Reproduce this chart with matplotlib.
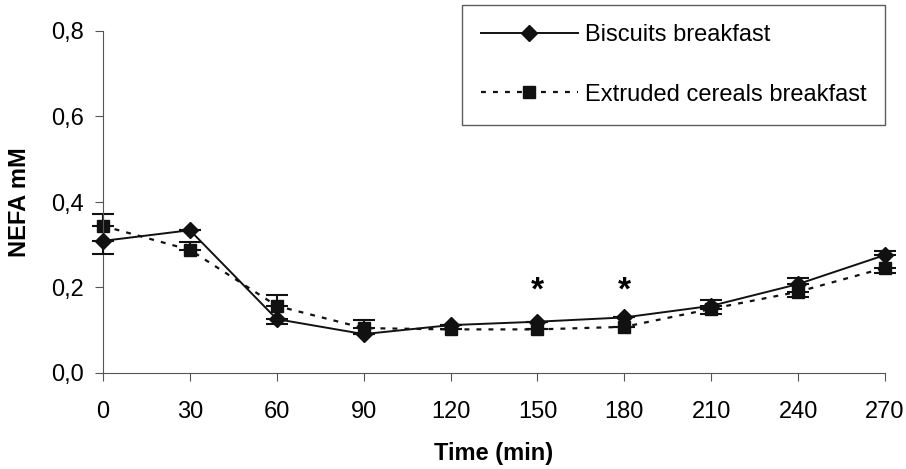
import matplotlib
matplotlib.use("Agg")
import matplotlib.pyplot as plt
from matplotlib.lines import Line2D
import numpy as np

plt.rcParams['font.family'] = ['Liberation Sans', 'DejaVu Sans']

time = [0, 30, 60, 90, 120, 150, 180, 210, 240, 270]
biscuits = [0.309, 0.334, 0.126, 0.091, 0.112, 0.120, 0.130, 0.157, 0.208, 0.276]
biscuits_err_lo = [0.030, 0.0, 0.012, 0.0, 0.0, 0.0, 0.0, 0.0, 0.0, 0.0]
biscuits_err_hi = [0.0, 0.0, 0.0, 0.0, 0.0, 0.0, 0.0, 0.014, 0.014, 0.010]
extruded = [0.344, 0.288, 0.157, 0.105, 0.102, 0.102, 0.108, 0.150, 0.190, 0.246]
extruded_err_lo = [0.0, 0.0, 0.0, 0.0, 0.0, 0.0, 0.0, 0.012, 0.012, 0.012]
extruded_err_hi = [0.028, 0.018, 0.025, 0.020, 0.0, 0.0, 0.0, 0.0, 0.0, 0.0]
star_times = [150, 180]
star_level = 0.192
yticks = [0.0, 0.2, 0.4, 0.6, 0.8]
ytick_labels = ['0,0', '0,2', '0,4', '0,6', '0,8']

fig = plt.figure(figsize=(9.06, 4.69), dpi=100)
ax = fig.add_axes([103/906, 1-373/469, (885-103)/906, (373-31)/469])

e1 = ax.errorbar(time, extruded, yerr=[extruded_err_lo, extruded_err_hi], color='#111111',
                 linestyle=(0, (2.2, 3.2)), linewidth=1.6, marker='s', markersize=9,
                 capsize=8, elinewidth=1.5, capthick=1.5, zorder=2)
e2 = ax.errorbar(time, biscuits, yerr=[biscuits_err_lo, biscuits_err_hi], color='#111111',
                 linestyle='-', linewidth=1.4, marker='D', markersize=8,
                 capsize=8, elinewidth=1.5, capthick=1.5, zorder=3)
for cont in (e1, e2):
    for art in cont.get_children():
        art.set_clip_on(False)

for t in star_times:
    ax.text(t, star_level, '*', ha='center', va='center', fontsize=24, fontweight='bold')

ax.set_xlim(0, 270)
ax.set_ylim(0, 0.8)
ax.set_xticks(time)
ax.set_xticklabels([str(t) for t in time], fontsize=17)
ax.set_yticks(yticks)
ax.set_yticklabels(ytick_labels, fontsize=17)
ax.spines['top'].set_visible(False)
ax.spines['right'].set_visible(False)
ax.spines['left'].set_color('#555555')
ax.spines['bottom'].set_color('#555555')
ax.tick_params(direction='out', length=6, color='#555555')
ax.tick_params(axis='x', pad=14)
ax.tick_params(axis='y', pad=8)
ax.set_xlabel('Time (min)', fontsize=17, fontweight='bold', labelpad=14)
ax.set_ylabel('NEFA mM', fontsize=17, fontweight='bold', labelpad=14)

handles = [Line2D([0], [0], color='#111111', linestyle='-', linewidth=1.4, marker='D', markersize=8),
           Line2D([0], [0], color='#111111', linestyle=(0, (2.2, 3.2)), linewidth=1.6, marker='s', markersize=9)]
leg = ax.legend(handles, ['Biscuits breakfast', 'Extruded cereals breakfast'],
                loc='upper left', bbox_to_anchor=((462-103)/(885-103), 1 + (31-5)/(373-31)),
                frameon=True, fancybox=False, fontsize=17, handlelength=4.1,
                labelspacing=1.6, borderpad=0.8, edgecolor='#333333', handletextpad=0.3,
                borderaxespad=0)
leg.get_frame().set_linewidth(1.0)

fig.savefig('out.png', dpi=100)
